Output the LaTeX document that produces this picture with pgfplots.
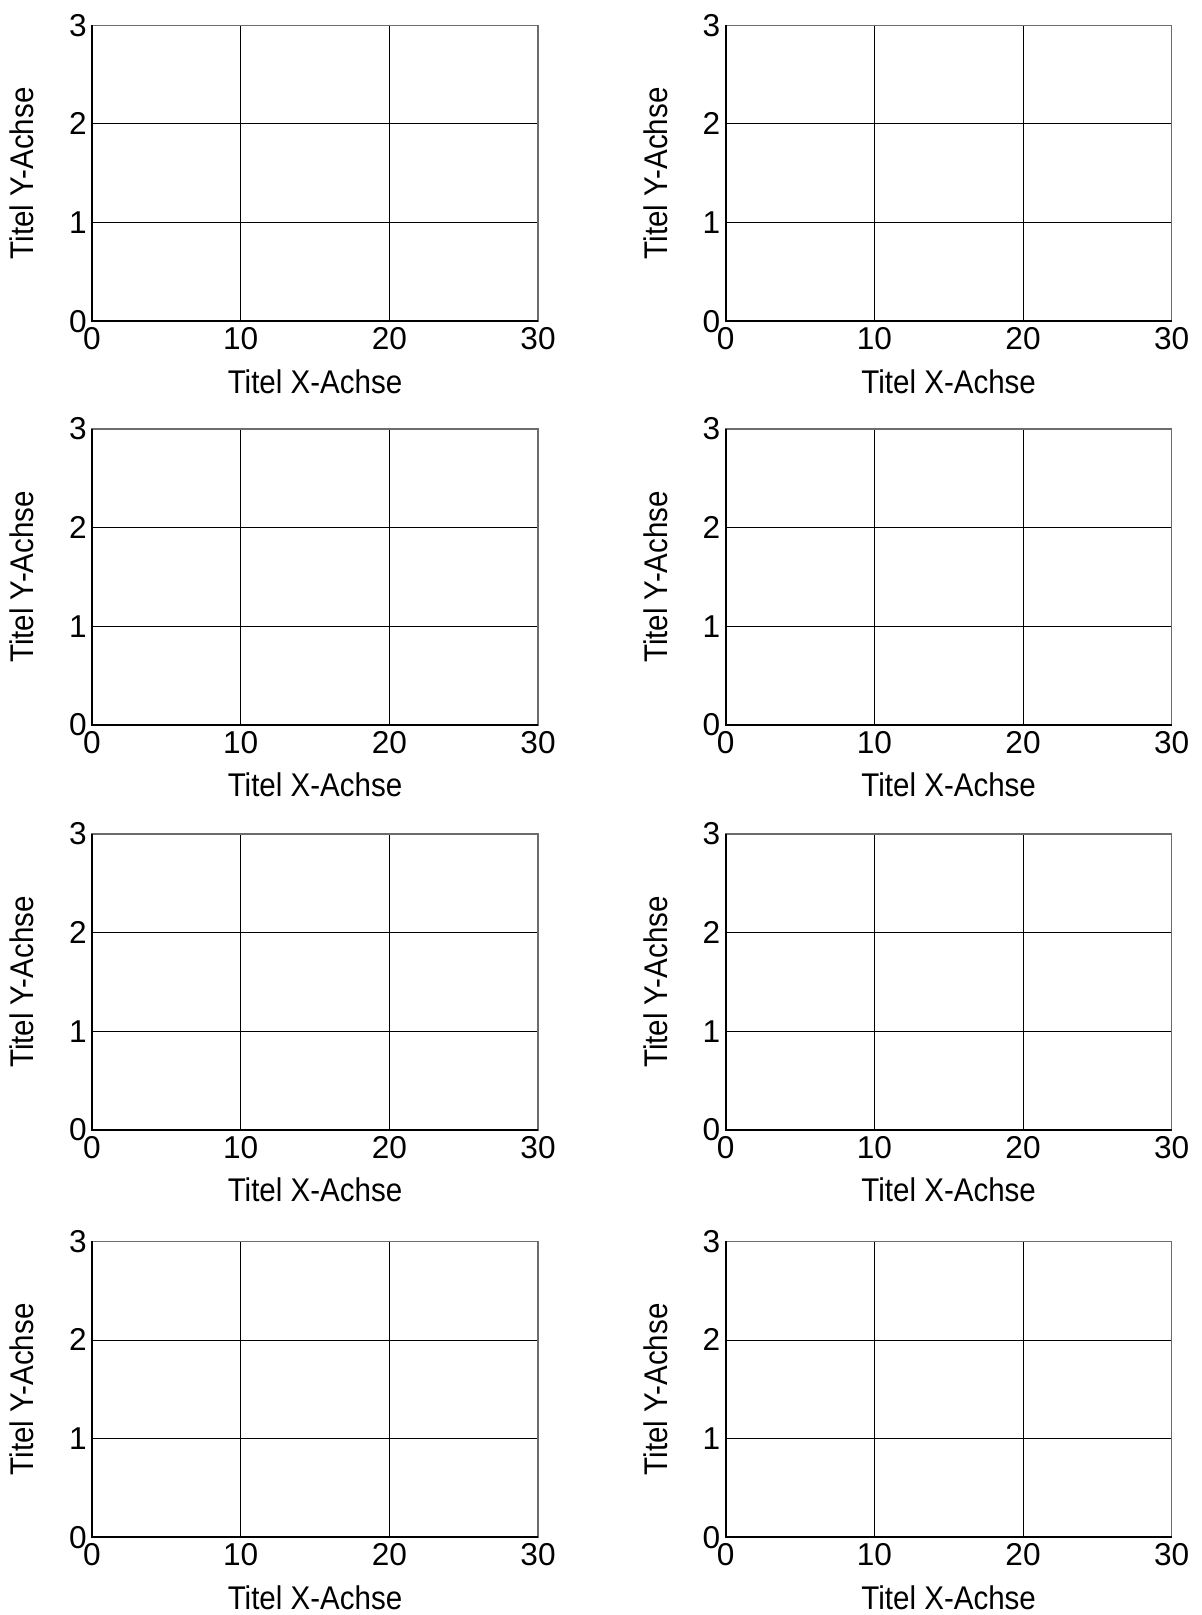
\documentclass[border=0pt]{standalone}
\usepackage{pgfplots}
\pgfplotsset{compat=1.18}
\usepackage{fontspec}
\setmainfont{Liberation Sans}
\pgfplotsset{
  myax/.style={
    scale only axis,
    width=223pt, height=148pt,
    xmin=0, xmax=30, ymin=0, ymax=3,
    xtick={0,10,20,30}, ytick={0,1,2,3},
    major tick length=0pt,
    grid=major,
    major grid style={black, line width=0.45pt},
    axis line style={draw=gray!85!black, line width=0.55pt},
    clip=false,
    /pgf/number format/assume math mode=true,
    tick label style={font=\fontsize{15.8pt}{18pt}\selectfont},
    label style={font=\fontsize{16.4pt}{19pt}\selectfont},
    xlabel={\scalebox{0.9}[1]{Titel X-Achse}},
    ylabel={\scalebox{0.9}[1]{Titel Y-Achse}},
    xlabel style={at={(axis description cs:0.5,-0.2027)}, anchor=center},
    ylabel style={at={(axis description cs:-0.157,0.5)}, anchor=center},
    xticklabel style={inner sep=3pt},
    yticklabel style={inner sep=2.5pt},
  },
}
\newcommand{\frameLB}{\draw[black, line width=0.85pt] (rel axis cs:0,1) -- (rel axis cs:0,0) -- (rel axis cs:1,0);}
\begin{document}
\begin{tikzpicture}
\path[use as bounding box] (0,0) rectangle (600.5pt,807.5pt);
% row 1
\begin{axis}[myax, at={(46pt,646.85pt)}]
\frameLB
\end{axis}
\begin{axis}[myax, at={(362.85pt,646.85pt)}]
\frameLB
\end{axis}
% row 2
\begin{axis}[myax, at={(46pt,445pt)}]
\frameLB
\end{axis}
\begin{axis}[myax, at={(362.85pt,445pt)}]
\frameLB
\end{axis}
% row 3
\begin{axis}[myax, at={(46pt,242.5pt)}]
\frameLB
\end{axis}
\begin{axis}[myax, at={(362.85pt,242.5pt)}]
\frameLB
\end{axis}
% row 4
\begin{axis}[myax, at={(46pt,38.85pt)}]
\frameLB
\end{axis}
\begin{axis}[myax, at={(362.85pt,38.85pt)}]
\frameLB
\end{axis}
\end{tikzpicture}
\end{document}
